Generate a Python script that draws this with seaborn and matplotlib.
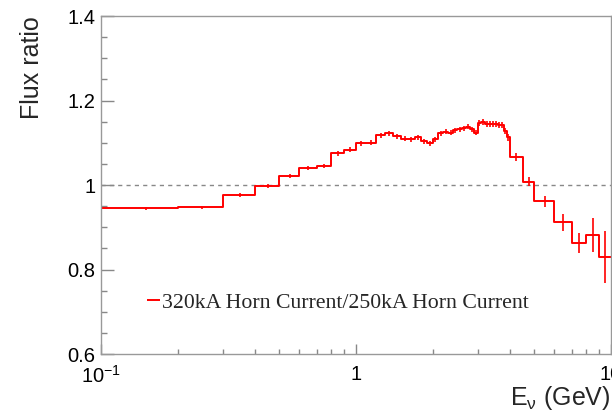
import numpy as np
import pandas as pd
import matplotlib
matplotlib.use("Agg")
import matplotlib.pyplot as plt
import seaborn as sns
from matplotlib.ticker import MultipleLocator, FixedLocator, FixedFormatter, LogLocator, NullFormatter

# ---- data ----
bin_edges = [0.1, 0.2, 0.3, 0.4, 0.5, 0.6, 0.7, 0.8, 0.9, 1.0,
             1.1, 1.2, 1.3, 1.4, 1.5, 1.6, 1.7, 1.8, 1.9, 2.0,
             2.1, 2.2, 2.3, 2.4, 2.5, 2.6, 2.7, 2.8, 2.9, 3.0,
             3.1, 3.2, 3.3, 3.4, 3.5, 3.6, 3.7, 3.8, 3.9, 4.0,
             4.5, 5.0, 6.0, 7.0, 8.0, 9.0, 10.0]
ratio = [0.945, 0.947, 0.976, 0.998, 1.021, 1.040, 1.045, 1.075, 1.084,
         1.099, 1.100, 1.118, 1.122, 1.115, 1.110, 1.108, 1.113, 1.103, 1.099,
         1.108, 1.122, 1.126, 1.124, 1.130, 1.132, 1.134, 1.138, 1.132, 1.124,
         1.146, 1.150, 1.144, 1.144, 1.144, 1.144, 1.143, 1.142, 1.128, 1.113,
         1.066, 1.008, 0.962, 0.912, 0.862, 0.882, 0.829]
ratio_err = [0.004, 0.004, 0.005, 0.005, 0.005, 0.005, 0.005, 0.006, 0.006,
             0.006, 0.006, 0.006, 0.006, 0.006, 0.006, 0.006, 0.006, 0.006, 0.006,
             0.006, 0.006, 0.006, 0.006, 0.006, 0.006, 0.006, 0.006, 0.006, 0.006,
             0.007, 0.007, 0.007, 0.007, 0.007, 0.007, 0.007, 0.007, 0.008, 0.008,
             0.009, 0.011, 0.013, 0.020, 0.024, 0.040, 0.061]
legend_label = "320kA Horn Current/250kA Horn Current"
x_title = r"E$_{\nu}$ (GeV)"
y_title = "Flux ratio"
y_ticks = [0.6, 0.8, 1.0, 1.2, 1.4]
y_ticklabels = ["0.6", "0.8", "1", "1.2", "1.4"]
x_ticks = [0.1, 1.0, 10.0]
x_ticklabels = [r"10$^{-1}$", "1", "10"]

sns.set_style("white")
plt.rcParams["font.family"] = ["Liberation Sans", "DejaVu Sans"]
plt.rcParams["mathtext.fontset"] = "custom"
plt.rcParams["mathtext.rm"] = "Liberation Sans"
plt.rcParams["mathtext.it"] = "Liberation Sans:italic"
plt.rcParams["mathtext.default"] = "regular"

fig = plt.figure(figsize=(6.12, 4.11), dpi=100)
ax = fig.add_axes([101 / 612, 1 - 354 / 411, 510 / 612, 338 / 411])

edges = np.array(bin_edges)
vals = np.array(ratio)
centers = 0.5 * (edges[:-1] + edges[1:])

step_df = pd.DataFrame({"E": edges, "r": np.append(vals, vals[-1])})
sns.lineplot(data=step_df, x="E", y="r", drawstyle="steps-post", color="#ff0000",
             lw=1.4, estimator=None, ax=ax, label=legend_label, solid_capstyle="butt")
ax.vlines(edges[0], 0.6, vals[0], color="#ff0000", lw=1.4)
ax.errorbar(centers, vals, yerr=ratio_err, fmt="none", ecolor="#ff0000", elinewidth=1.2, capsize=0)

ax.axhline(1.0, color="#888888", lw=1.0, ls=(0, (3, 3)), zorder=0)

ax.set_xscale("log")
ax.set_xlim(0.1, 10)
ax.set_ylim(0.6, 1.4)

ax.yaxis.set_major_locator(FixedLocator(y_ticks))
ax.yaxis.set_major_formatter(FixedFormatter(y_ticklabels))
ax.yaxis.set_minor_locator(MultipleLocator(0.05))
ax.xaxis.set_major_locator(FixedLocator(x_ticks))
ax.xaxis.set_major_formatter(FixedFormatter(x_ticklabels))
ax.xaxis.set_minor_locator(LogLocator(base=10, subs=np.arange(2, 10)))
ax.xaxis.set_minor_formatter(NullFormatter())

ax.tick_params(axis="y", which="major", direction="in", length=9.5, width=1, color="#888888",
               labelsize=14.5, pad=4, labelcolor="black", left=True)
ax.tick_params(axis="y", which="minor", direction="in", length=4.5, width=1, color="#888888", left=True)
ax.tick_params(axis="x", which="major", direction="in", length=7.5, width=1, color="#888888",
               labelsize=14.5, pad=8, labelcolor="black", bottom=True)
ax.tick_params(axis="x", which="minor", direction="in", length=3.8, width=1, color="#888888", bottom=True)

for s in ax.spines.values():
    s.set_visible(True)
    s.set_color("#999999")
    s.set_linewidth(1.0)

ax.set_ylabel(y_title, fontsize=18, loc="top", labelpad=17)
ax.set_xlabel(x_title, fontsize=18, loc="right", labelpad=-2)

leg = ax.legend(loc="center left", bbox_to_anchor=(0.090, 0.151), frameon=False,
                handlelength=0.6, handletextpad=0.1, borderpad=0, borderaxespad=0,
                prop={"family": "Liberation Serif", "size": 15.7})

fig.savefig("out.png", dpi=100)
